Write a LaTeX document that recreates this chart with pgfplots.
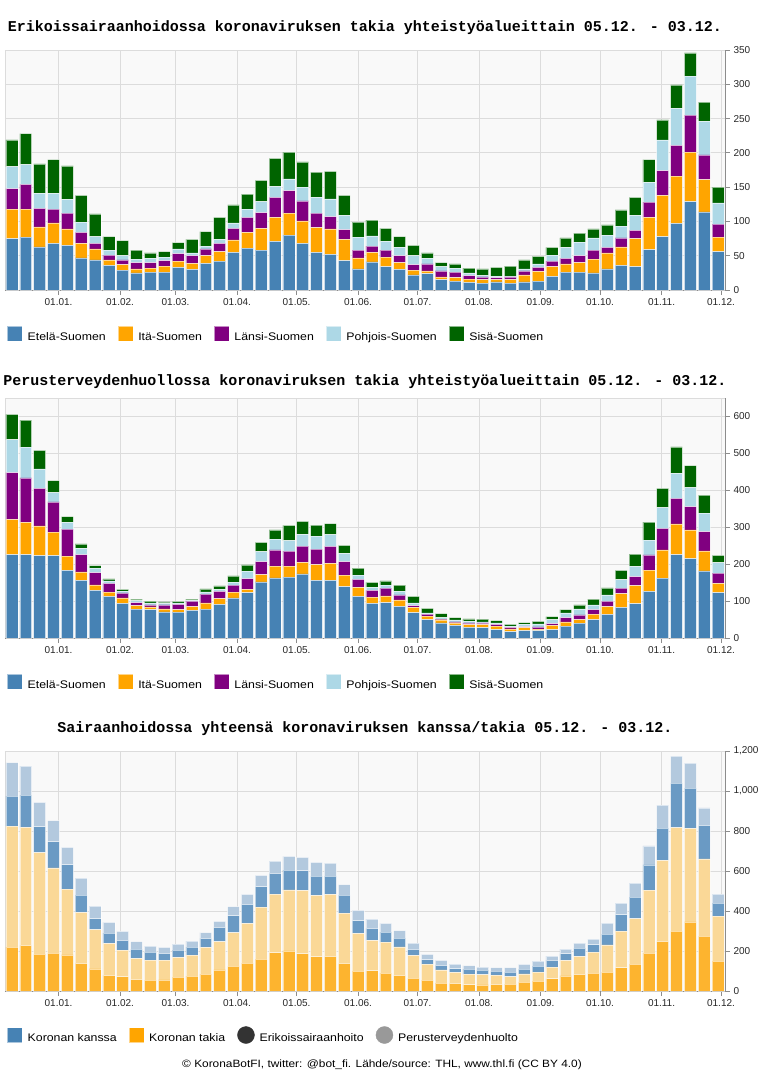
\documentclass[border=0pt]{standalone}
\usepackage{fontspec}
\setmainfont{Liberation Sans}
\newfontfamily\titlefont{Liberation Mono}
\newfontfamily\widesans{Liberation Sans}[FakeStretch=1.12]
\usepackage{pgfplots}
\usepackage{pgfplotstable}
\pgfplotsset{compat=1.18}

\definecolor{cEtela}{HTML}{4682B4}
\definecolor{cIta}{HTML}{FFA500}
\definecolor{cLansi}{HTML}{800080}
\definecolor{cPohjois}{HTML}{ADD8E6}
\definecolor{cSisa}{HTML}{006400}
\definecolor{plotbg}{HTML}{F9F9F9}
\definecolor{gridc}{HTML}{DCDCDC}
\definecolor{axisc}{HTML}{8C8C8C}
\definecolor{tEsh}{HTML}{FDB42F}
\definecolor{tPth}{HTML}{FAD897}
\definecolor{kEsh}{HTML}{6A9AC4}
\definecolor{kPth}{HTML}{B3C9DE}

% Erikoissairaanhoito, koronan takia, per yhteistyöalue (week index w = 0 is 05.12.)
\pgfplotstableread{
w e i l p s
0 75 43 30 32 39
1 77 41 36 29 45
2 63 29 27 22 43
3 68 30 20 23 49
4 65 24 23 20 49
5 47 21 16 15 39
6 44 16 8 10 33
7 36 8 7 7 20
8 29 8 7 6 22
9 25 6 9 5 13
10 26 6 8 6 8
11 26 9 8 5 8
12 33 9 11 7 9
13 30 9 11 4 20
14 39 11 10 4 21
15 42 14 12 6 32
16 55 18 17 8 26
17 61 23 22 12 22
18 58 32 23 16 31
19 71 35 29 16 41
20 80 32 33 17 39
21 68 33 29 20 37
22 55 36 21 23 37
23 52 37 18 26 40
24 43 31 14 21 29
25 31 16 11 19 22
26 41 14 9 15 23
27 34 14 10 13 19
28 30 10 10 12 16
29 22 7 8 13 15
30 24 4 10 8 8
31 15 4 9 6 6
32 13 5 8 6 6
33 11 5 5 4 7
34 10 5 4 2 10
35 12 3 3 2 13
36 10 5 4 1 15
37 12 10 6 3 13
38 13 14 6 5 11
39 20 14 8 9 11
40 26 12 8 16 14
41 26 14 10 20 13
42 25 20 13 18 13
43 31 23 8 18 15
44 36 27 13 17 24
45 34 41 12 22 26
46 59 47 22 29 33
47 78 60 36 45 29
48 97 69 45 54 34
49 129 72 54 57 34
50 114 47 36 49 28
51 56 21 19 31 23
}\eshtable

% Perusterveydenhuolto, koronan takia, per yhteistyöalue
\pgfplotstableread{
w e i l p s
0 226 95 127 89 69
1 226 87 121 83 73
2 223 81 101 53 50
3 223 64 82 25 32
4 183 39 73 18 16
5 156 23 47 17 12
6 129 15 33 12 7
7 113 11 24 7 5
8 94 15 13 5 5
9 78 10 8 5 4
10 77 7 6 5 5
11 71 8 11 4 4
12 70 7 14 4 4
13 75 10 15 2 3
14 78 17 24 6 8
15 91 16 19 6 9
16 109 15 19 8 17
17 123 9 29 20 17
18 152 20 35 27 25
19 163 32 44 29 25
20 165 30 40 29 41
21 174 31 44 32 35
22 156 43 42 35 30
23 156 46 46 32 30
24 139 31 37 22 22
25 113 24 22 11 19
26 94 17 18 8 14
27 96 18 21 8 12
28 86 17 14 9 17
29 69 14 5 7 18
30 50 9 6 3 12
31 41 8 2 4 11
32 34 7 3 5 6
33 29 7 5 4 7
34 28 8 5 3 7
35 23 9 5 4 6
36 17 8 4 3 5
37 20 8 3 6 5
38 20 4 6 8 7
39 23 11 5 11 8
40 32 12 11 13 9
41 40 10 13 16 11
42 50 15 12 13 15
43 64 21 15 17 19
44 83 37 15 23 25
45 93 49 24 28 33
46 126 58 41 40 49
47 162 77 58 56 52
48 226 83 69 68 72
49 215 78 63 51 60
50 182 54 52 50 49
51 123 25 28 28 20
}\pthtable

% Yhteensä: takia (ESH, PTH) ja kanssa (ESH, PTH)
\pgfplotstableread{
w te tp ke kp
0 219 606 150 167
1 228 590 162 145
2 184 508 130 121
3 190 426 131 105
4 181 329 122 86
5 138 255 87 85
6 111 196 55 63
7 78 160 52 53
8 72 132 49 45
9 58 105 47 37
10 54 100 41 30
11 56 98 34 30
12 69 99 37 30
13 74 105 41 30
14 85 133 45 29
15 106 141 71 30
16 124 168 85 45
17 140 198 95 50
18 160 259 103 56
19 192 293 103 62
20 201 305 99 68
21 187 316 99 66
22 172 306 97 68
23 173 310 92 65
24 138 251 91 52
25 99 189 64 51
26 102 151 60 47
27 90 155 50 43
28 78 143 44 37
29 65 113 30 32
30 54 80 23 26
31 40 66 22 25
32 38 55 19 23
33 32 52 26 17
34 31 51 23 15
35 33 47 20 17
36 35 37 23 22
37 44 42 24 23
38 49 45 31 25
39 62 58 33 22
40 76 77 34 23
41 83 90 42 25
42 89 105 38 28
43 95 136 53 55
44 117 183 82 58
45 135 227 107 70
46 190 314 127 95
47 248 405 162 115
48 299 518 222 135
49 346 467 202 125
50 274 387 167 88
51 150 224 65 45
}\totaltable

\pgfplotsset{
  sq legend/.style={legend image code/.code={%
      \fill[##1] (0pt,-4pt) rectangle (15pt,11pt);}},
  seg/.style={fill=#1, draw=white, draw opacity=0.55, line width=0.5pt, sq legend},
  weekbars/.style={
    ybar stacked, bar width=0.86,
    scale only axis, width=720pt, height=240pt,
    anchor=south west,
    xmin=-0.5, xmax=51.5, ymin=0,
    axis background/.style={fill=plotbg, draw=gridc, line width=0.8pt},
    axis x line=bottom, axis y line=right,
    axis line style={-, draw=axisc, line width=0.8pt},
    grid=major, grid style={draw=gridc, line width=0.8pt},
    xtick={3.368,7.809,11.820,16.260,20.558,24.999,29.296,33.737,38.178,42.475,46.916,51.213},
    xticklabels={01.01.,01.02.,01.03.,01.04.,01.05.,01.06.,01.07.,01.08.,01.09.,01.10.,01.11.,01.12.},
    tick align=outside, major tick length=5pt,
    tick style={draw=axisc, line width=0.8pt},
    tick label style={font=\fontsize{10}{12}\selectfont, text=black!85},
    /pgf/number format/assume math mode=true,
    /pgf/number format/1000 sep={,},
    legend style={at={(0,0)}, anchor=west, xshift=2pt, yshift=-44pt,
      draw=none, fill=none, inner sep=0pt,
      font=\widesans\fontsize{11}{13}\selectfont,
      nodes={inner sep=0pt},
      /tikz/every odd column/.append style={column sep=5pt},
      /tikz/every even column/.append style={column sep=12pt}},
    legend columns=-1,
  },
}

\begin{document}
\begin{tikzpicture}
\useasboundingbox (0pt,0pt) rectangle (764pt,-1072pt);

% --- Erikoissairaanhoito ---
\node[font=\titlefont\bfseries\fontsize{15}{18}\selectfont, anchor=base]
  at (365pt,-31pt) {Erikoissairaanhoidossa koronaviruksen takia yhteistyöalueittain 05.12. - 03.12.};
\begin{axis}[weekbars, at={(5pt,-290pt)}, ymax=350, ytick={0,50,...,350}]
  \addplot[seg=cEtela] table[x=w, y=e] {\eshtable};
  \addplot[seg=cIta] table[x=w, y=i] {\eshtable};
  \addplot[seg=cLansi] table[x=w, y=l] {\eshtable};
  \addplot[seg=cPohjois] table[x=w, y=p] {\eshtable};
  \addplot[seg=cSisa] table[x=w, y=s] {\eshtable};
  \legend{Etelä-Suomen, Itä-Suomen, Länsi-Suomen, Pohjois-Suomen, Sisä-Suomen}
\end{axis}

% --- Perusterveydenhuolto ---
\node[font=\titlefont\bfseries\fontsize{15}{18}\selectfont, anchor=base]
  at (365pt,-385pt) {Perusterveydenhuollossa koronaviruksen takia yhteistyöalueittain 05.12. - 03.12.};
\begin{axis}[weekbars, at={(5pt,-638pt)}, ymax=650, ytick={0,100,...,600}]
  \addplot[seg=cEtela] table[x=w, y=e] {\pthtable};
  \addplot[seg=cIta] table[x=w, y=i] {\pthtable};
  \addplot[seg=cLansi] table[x=w, y=l] {\pthtable};
  \addplot[seg=cPohjois] table[x=w, y=p] {\pthtable};
  \addplot[seg=cSisa] table[x=w, y=s] {\pthtable};
  \legend{Etelä-Suomen, Itä-Suomen, Länsi-Suomen, Pohjois-Suomen, Sisä-Suomen}
\end{axis}

% --- Yhteensä ---
\node[font=\titlefont\bfseries\fontsize{15}{18}\selectfont, anchor=base]
  at (365pt,-732pt) {Sairaanhoidossa yhteensä koronaviruksen kanssa/takia 05.12. - 03.12.};
\begin{axis}[weekbars, at={(5pt,-991pt)}, ymax=1200, ytick={0,200,...,1200}]
  \addplot[seg=tEsh, forget plot] table[x=w, y=te] {\totaltable};
  \addplot[seg=tPth, forget plot] table[x=w, y=tp] {\totaltable};
  \addplot[seg=kEsh, forget plot] table[x=w, y=ke] {\totaltable};
  \addplot[seg=kPth, forget plot] table[x=w, y=kp] {\totaltable};
  \addlegendimage{seg=cEtela}
  \addlegendimage{seg=cIta}
  \addlegendimage{legend image code/.code={\fill[black!80] (8.5pt,3.5pt) circle (8.5pt);}}
  \addlegendimage{legend image code/.code={\fill[black!40] (8.5pt,3.5pt) circle (8.5pt);}}
  \legend{Koronan kanssa, Koronan takia, Erikoissairaanhoito, Perusterveydenhuolto}
\end{axis}

\node[font=\widesans\fontsize{10.6}{13}\selectfont, anchor=base]
  at (382pt,-1067pt) {© KoronaBotFI, twitter: @bot\_fi. Lähde/source: THL, www.thl.fi (CC BY 4.0)};
\end{tikzpicture}
\end{document}
